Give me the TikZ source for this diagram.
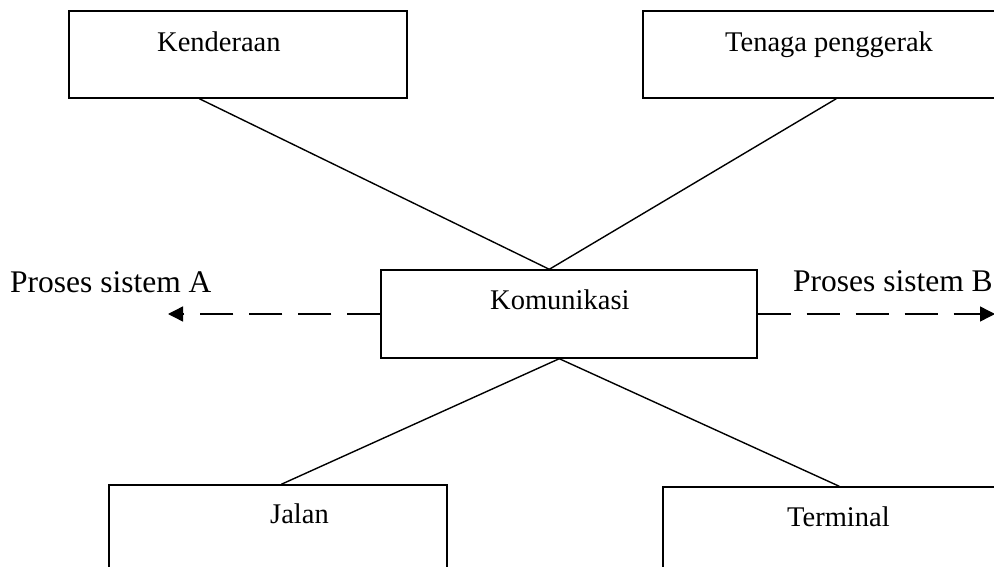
\documentclass[tikz,border=0pt]{standalone}
\usepackage{fontspec}
\setmainfont{Liberation Serif}
\usetikzlibrary{arrows.meta}
\begin{document}
\begin{tikzpicture}[x=1pt,y=-1pt,
  box/.style={draw,line width=1.4pt,rectangle,inner sep=0pt},
  lbl/.style={anchor=base west,inner sep=0pt,font=\fontsize{28.5}{30}\selectfont},
  biglbl/.style={anchor=base west,inner sep=0pt,font=\fontsize{31.5}{33}\selectfont},
  link/.style={line width=1.4pt},
  flow/.style={line width=1.4pt,dash pattern=on 33pt off 16pt,-{Triangle[length=15pt,width=15pt]}}]
\useasboundingbox (0,0) rectangle (994,567);
\clip (0,0) rectangle (994,567);

% boxes
\node[box,minimum width=338pt,minimum height=87pt] (kend) at (238,54.5) {};
\node[box,minimum width=367pt,minimum height=87pt] (tena) at (826.5,54.5) {};
\node[box,minimum width=376pt,minimum height=88pt] (komu) at (569,314) {};
\node[box,minimum width=338pt,minimum height=135pt] (jalan) at (278,552.5) {};
\node[box,minimum width=347pt,minimum height=133pt] (term) at (836.5,553.5) {};

% box texts
\node[lbl] (tkend) at (157,52) {Kenderaan};
\node[lbl] (ttena) at (725,52) {Tenaga penggerak};
\node[lbl] (tkomu) at (490,309) {Komunikasi};
\node[lbl] (tjalan) at (270,523) {Jalan};
\node[lbl] (tterm) at (787,526) {Terminal};

% process labels
\node[biglbl] (pa) at (10,292) {Proses sistem A};
\node[biglbl] (pb) at (793,291) {Proses sistem B};

% arrow ends
\coordinate (ea) at (168,314);
\coordinate (eb) at (995,314);

% connectors
\draw[link] ([xshift=131pt]kend.south west) -- ([xshift=169pt]komu.north west);
\draw[link] ([xshift=194pt]tena.south west) -- ([xshift=169pt]komu.north west);
\draw[link] ([xshift=173pt]jalan.north west) -- ([xshift=179pt]komu.south west);
\draw[link] ([xshift=177pt]term.north west) -- ([xshift=179pt]komu.south west);

% dashed process arrows
\draw[flow] (komu.west) -- (ea);
\draw[flow] (komu.east) -- (eb);
\end{tikzpicture}
\end{document}
